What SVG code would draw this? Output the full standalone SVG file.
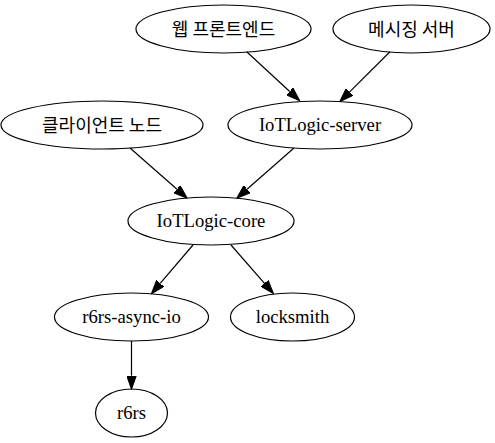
<svg xmlns="http://www.w3.org/2000/svg" width="495" height="443" viewBox="0 0 495 443">
<style>
  .node ellipse { fill: none; stroke: #000; stroke-width: 1.2; }
  .lat { font-family: 'Liberation Serif', 'Times New Roman', 'DejaVu Serif', serif; font-size: 18.67px; text-anchor: middle; fill: #000; }
  .ko { font-family: 'Noto Sans CJK KR', 'Noto Sans', sans-serif; font-size: 18px; text-anchor: middle; fill: #000; }
  #edges path { fill: none; stroke: #000; stroke-width: 1.2; marker-end: url(#arrow); }
</style>
<defs>
  <marker id="arrow" markerUnits="userSpaceOnUse" viewBox="0 -5 14 10" markerWidth="14" markerHeight="10" refX="0" refY="0" orient="auto">
    <path d="M0,-4.67 L13.33,0 L0,4.67 z" fill="#000" stroke="#000" stroke-width="1.2"/>
  </marker>
</defs>
<rect width="495" height="443" fill="#fff"/>
<g id="edges">
  <path d="M246.7,51.7 L289.7,91.45"/>
  <path d="M390,51.7 L349.4,92.1"/>
  <path d="M130,148 L177,189.2"/>
  <path d="M294,148 L247,189.2"/>
  <path d="M193,245 L160.2,283.4"/>
  <path d="M231,245 L264.5,283.3"/>
  <path d="M131.5,341 L131.5,375.7"/>
</g>
<g id="web" class="node">
  <ellipse cx="223.5" cy="29" rx="87.5" ry="24"/>
  <text class="ko" x="223.5" y="35.5">웹 프론트엔드</text>
</g>
<g id="messaging" class="node">
  <ellipse cx="411.5" cy="29" rx="78.5" ry="24"/>
  <text class="ko" x="411.5" y="35.5">메시징 서버</text>
</g>
<g id="client" class="node">
  <ellipse cx="102" cy="125" rx="101" ry="24"/>
  <text class="ko" x="102" y="131.5">클라이언트 노드</text>
</g>
<g id="server" class="node">
  <ellipse cx="320" cy="125" rx="92" ry="24"/>
  <text class="lat" x="320" y="131" font-family="Liberation Serif, serif">IoTLogic-server</text>
</g>
<g id="core" class="node">
  <ellipse cx="211" cy="221" rx="83" ry="24"/>
  <text class="lat" x="211" y="227" font-family="Liberation Serif, serif">IoTLogic-core</text>
</g>
<g id="asyncio" class="node">
  <ellipse cx="131.5" cy="317" rx="77" ry="24"/>
  <text class="lat" x="131.5" y="323" font-family="Liberation Serif, serif">r6rs-async-io</text>
</g>
<g id="locksmith" class="node">
  <ellipse cx="292.5" cy="317" rx="62" ry="24"/>
  <text class="lat" x="292.5" y="323" font-family="Liberation Serif, serif">locksmith</text>
</g>
<g id="r6rs" class="node">
  <ellipse cx="131.5" cy="413" rx="36" ry="24"/>
  <text class="lat" x="131.5" y="419" font-family="Liberation Serif, serif">r6rs</text>
</g>
</svg>
